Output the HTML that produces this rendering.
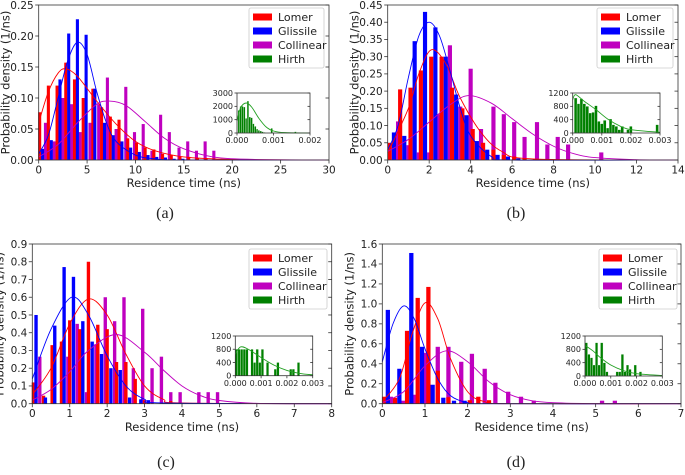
<!DOCTYPE html>
<html><head><meta charset="utf-8"><style>
body{margin:0;background:#fff;width:685px;height:470px;overflow:hidden}
svg{font-family:"DejaVu Sans","Liberation Sans",sans-serif}
</style></head><body>
<svg id="fig" width="685" height="470" viewBox="0 0 685 470" xmlns="http://www.w3.org/2000/svg"></svg>
<script>
// ---------- Panel (a) data ----------
const aRedX=[0.1,1.0,1.9,2.8,3.7,4.6,5.6,6.5,7.4,8.3,9.2,10.1,11.0,11.9,12.8,13.7,14.6,15.5,16.4,17.3];
const aRedY=[0.077,0.12,0.12,0.157,0.13,0.1,0.115,0.085,0.07,0.065,0.035,0.028,0.02,0.017,0.01,0.008,0.005,0.005,0.003,0.003];
const aBlueX=[0.4,1.3,2.2,3.1,4.0,4.9,5.8,6.8,7.7,8.6,9.5,10.4,11.3,12.2,13.1,14.0,14.9];
const aBlueY=[0.018,0.032,0.13,0.204,0.227,0.202,0.115,0.06,0.04,0.03,0.02,0.013,0.008,0.005,0.004,0.002,0.002];
const aMagX=[0.7,1.6,2.5,3.4,4.3,5.3,6.2,7.1,8.0,9.0,9.9,10.8,11.7,12.6,13.5,14.5,15.4,16.3,17.2,18.1];
const aMagY=[0.06,0.03,0.1,0.09,0.045,0.06,0.09,0.133,0.05,0.118,0.045,0.058,0.015,0.073,0.045,0.02,0.03,0.015,0.03,0.015];
const aRedFitX=[0,1,2,2.8,4,6,8,10,12,15,20,30];
const aRedFitY=[0.06,0.11,0.14,0.147,0.135,0.095,0.058,0.03,0.015,0.005,0.001,0];
const aBlueFitX=[0,1,2,3,4,5,6,7,8,10,12,15,30];
const aBlueFitY=[0.01,0.04,0.1,0.16,0.19,0.17,0.11,0.06,0.03,0.008,0.002,0,0];
const aMagFitX=[0,2,4,6,7.3,9,11,13,15,18,22,30];
const aMagFitY=[0.005,0.025,0.06,0.09,0.095,0.088,0.062,0.035,0.018,0.005,0.001,0];
const aGreenX=[0.00005,0.0001,0.00015,0.0002,0.00025,0.0003,0.00035,0.0004,0.00045,0.0005,0.00055,0.0006,0.00065,0.0007,0.00075,0.00095,0.0016];
const aGreenY=[1700,2000,2000,1950,1100,2400,1200,1150,700,500,300,200,150,100,50,350,100];
const aGreenFitX=[0,0.0001,0.00025,0.0004,0.0006,0.0008,0.001,0.0013,0.002];
const aGreenFitY=[900,1900,2250,1950,1100,450,150,30,0];
const aXTicks=[0,5,10,15,20,25,30];
const aYTicks=["0.00","0.05","0.10","0.15","0.20","0.25"];
const aInXTicks=["0.000","0.001","0.002"];
const aInYTicks=[0,1000,2000,3000];
// ---------- Panel (b) data ----------
const bRedX=[0.1,0.6,1.1,1.6,2.1,2.6,3.1,3.6,4.1,4.6,5.1,5.6,6.1,6.6,7.1];
const bRedY=[0.05,0.205,0.21,0.26,0.30,0.3,0.21,0.15,0.09,0.05,0.03,0.015,0.01,0.005,0.003];
const bBlueX=[0.3,0.8,1.3,1.8,2.3,2.8,3.3,3.8,4.3,4.8,5.3,5.8,6.3];
const bBlueY=[0.08,0.07,0.345,0.43,0.385,0.3,0.19,0.13,0.055,0.03,0.015,0.01,0.005];
const bMagX=[0.5,1.0,1.5,2.0,2.5,3.0,3.5,4.0,4.5,5.1,5.6,6.1,6.6,7.2,7.7,8.2,8.7,10.3];
const bMagY=[0.112,0.043,0.022,0.022,0.133,0.333,0.155,0.265,0.09,0.155,0.133,0.11,0.067,0.11,0.045,0.067,0.045,0.022];
const bRedFitX=[0,1,1.5,2.1,2.8,3.5,4.5,5.5,7,14];
const bRedFitY=[0.02,0.15,0.25,0.32,0.28,0.18,0.08,0.025,0.003,0];
const bBlueFitX=[0,0.5,1,1.5,2,2.5,3,3.5,4,5,6,14];
const bBlueFitY=[0.03,0.1,0.24,0.36,0.4,0.36,0.26,0.15,0.07,0.01,0,0];
const bMagFitX=[0,1,2,3,3.9,5,6,7,8,9,10,12,14];
const bMagFitY=[0.025,0.06,0.11,0.16,0.187,0.165,0.12,0.075,0.04,0.018,0.007,0.001,0];
const bGreenX=[0.0001,0.0002,0.0003,0.0004,0.0005,0.0006,0.0007,0.0008,0.0009,0.001,0.0011,0.0012,0.0013,0.0014,0.0015,0.0016,0.0017,0.0019,0.002,0.0029];
const bGreenY=[1050,880,1030,880,800,600,620,820,350,280,380,150,420,250,200,100,200,100,200,250];
const bGreenFitX=[0,0.0001,0.0004,0.0008,0.0012,0.0016,0.002,0.003];
const bGreenFitY=[1000,1150,950,700,420,220,100,20];
const bXTicks=[0,2,4,6,8,10,12,14];
const bYTicks=["0.00","0.05","0.10","0.15","0.20","0.25","0.30","0.35","0.40","0.45"];
const bInXTicks=["0.000","0.001","0.002","0.003"];
const bInYTicks=[0,400,800,1200];
// ---------- Panel (c) data ----------
const cRedX=[0.03,0.3,0.53,0.78,1.0,1.27,1.5,1.75,2.0,2.25,2.5,2.75,3.0,3.7];
const cRedY=[0.12,0.045,0.33,0.35,0.47,0.42,0.8,0.445,0.42,0.235,0.235,0.14,0.02,0.015];
const cBlueX=[0.1,0.35,0.6,0.85,1.1,1.35,1.6,1.85,2.1,2.35,2.6,2.9,3.1];
const cBlueY=[0.5,0.035,0.44,0.77,0.715,0.465,0.35,0.28,0.2,0.19,0.035,0.025,0.02];
const cMagX=[0.2,0.95,1.2,1.45,1.7,1.95,2.2,2.45,2.7,2.95,3.2,3.45,3.7,3.95,4.45,4.7,4.95];
const cMagY=[0.265,0.265,0.45,0.065,0.335,0.6,0.465,0.6,0.2,0.535,0.2,0.265,0.065,0.065,0.065,0.065,0.065];
const cRedFitX=[0,0.5,1,1.5,2,2.5,3,3.5,4,8];
const cRedFitY=[0.05,0.2,0.45,0.59,0.5,0.28,0.1,0.025,0.004,0];
const cBlueFitX=[0,0.5,1.05,1.5,2,2.5,3,3.5,8];
const cBlueFitY=[0.14,0.42,0.6,0.5,0.27,0.1,0.025,0.004,0];
const cMagFitX=[0,0.5,1,1.5,2.25,3,3.5,4,4.5,5,6,8];
const cMagFitY=[0.02,0.08,0.18,0.3,0.39,0.29,0.19,0.1,0.045,0.018,0.002,0];
const cGreenX=[0.00005,0.00015,0.00025,0.00035,0.00045,0.00065,0.00075,0.00085,0.00095,0.00105,0.00125,0.00155,0.00165,0.00215,0.00225,0.00245];
const cGreenY=[800,800,800,800,800,800,400,800,400,800,400,200,400,200,200,400];
const cGreenFitX=[0,0.0002,0.0005,0.001,0.0015,0.002,0.0025,0.003];
const cGreenFitY=[650,870,800,550,320,160,70,25];
const cXTicks=[0,1,2,3,4,5,6,7,8];
const cYTicks=["0.0","0.1","0.2","0.3","0.4","0.5","0.6","0.7","0.8","0.9"];
const cInXTicks=["0.000","0.001","0.002","0.003"];
const cInYTicks=[0,400,800,1200];
// ---------- Panel (d) data ----------
const dRedX=[0.05,0.3,0.58,0.83,1.08,1.3,1.55,2.05,2.25,2.5];
const dRedY=[0.07,0.06,0.73,1.06,1.17,0.33,0.065,0.035,0.07,0.035];
const dBlueX=[0.13,0.4,0.68,0.93,1.18,1.43,1.68,1.93];
const dBlueY=[0.94,0.35,1.51,0.57,0.19,0.06,0.03,0.03];
const dMagX=[0.2,0.5,0.77,1.0,1.3,1.55,1.85,2.1,2.4,2.65,2.95,3.25,3.55,5.15,5.45];
const dMagY=[0.07,0.03,0.09,0.51,0.57,0.57,0.42,0.5,0.35,0.21,0.12,0.07,0.03,0.03,0.03];
const dRedFitX=[0,0.4,0.7,1,1.3,1.6,2,2.4,3,7];
const dRedFitY=[0.02,0.25,0.7,1.01,0.85,0.45,0.12,0.02,0,0];
const dBlueFitX=[0,0.25,0.5,0.75,1,1.3,1.6,2,2.5,7];
const dBlueFitY=[0.42,0.8,0.98,0.85,0.55,0.25,0.08,0.01,0,0];
const dMagFitX=[0,0.5,1,1.5,2,2.5,3,3.5,4,5,7];
const dMagFitY=[0.01,0.12,0.38,0.53,0.42,0.22,0.09,0.03,0.01,0.001,0];
const dGreenX=[0.00005,0.00015,0.00025,0.00035,0.00045,0.00055,0.00065,0.00075,0.00085,0.00125,0.00135,0.00145,0.00155,0.00165,0.00175,0.00195,0.00215];
const dGreenY=[1000,650,550,330,1000,330,1000,400,130,130,130,650,130,330,200,330,130];
const dGreenFitX=[0,0.0003,0.0006,0.001,0.0015,0.002,0.003];
const dGreenFitY=[920,760,550,330,160,70,15];
const dXTicks=[0,1,2,3,4,5,6,7];
const dYTicks=["0.0","0.2","0.4","0.6","0.8","1.0","1.2","1.4","1.6"];
const dInXTicks=["0.000","0.001","0.002","0.003"];
const dInYTicks=[0,400,800,1200];

const NS="http://www.w3.org/2000/svg";
const svg=document.getElementById('fig');
function mk(tag,attrs,parent){const e=document.createElementNS(NS,tag);for(const k in attrs)e.setAttribute(k,attrs[k]);(parent||svg).appendChild(e);return e;}
function smooth(pts){let d="M"+pts[0][0]+","+pts[0][1];for(let i=0;i<pts.length-1;i++){const p0=pts[i-1]||pts[i],p1=pts[i],p2=pts[i+1],p3=pts[i+2]||p2;
 const c1x=p1[0]+(p2[0]-p0[0])/6,c1y=p1[1]+(p2[1]-p0[1])/6,c2x=p2[0]-(p3[0]-p1[0])/6,c2y=p2[1]-(p3[1]-p1[1])/6;
 d+=" C"+c1x+","+c1y+" "+c2x+","+c2y+" "+p2[0]+","+p2[1];}return d;}

function axes(g,cfg){
 const {x0,x1,y0,y1,xmax,ymax,xt,yt,fs,tl}=cfg;
 const sx=v=>x0+(v/xmax)*(x1-x0), sy=v=>y1-(v/ymax)*(y1-y0);
 return {sx,sy,draw(){
  mk('rect',{x:x0,y:y0,width:x1-x0,height:y1-y0,fill:'none',stroke:'#333','stroke-width':0.8},g);
  xt.forEach((t,i)=>{const v=parseFloat(t);const x=sx(v);
   mk('line',{x1:x,x2:x,y1:y1,y2:y1+tl,stroke:'#333','stroke-width':0.8},g);
   const tx=mk('text',{x:x,y:y1+tl+fs*0.95,'text-anchor':'middle','font-size':fs,fill:'#222'},g);tx.textContent=t;
   
   });
  yt.forEach((t,i)=>{const v=parseFloat(t);const y=sy(v);
   mk('line',{x1:x0-tl,x2:x0,y1:y,y2:y,stroke:'#333','stroke-width':0.8},g);
   if(cfg.right)mk('line',{x1:x1-tl,x2:x1,y1:y,y2:y,stroke:'#333','stroke-width':0.8},g);
   const tx=mk('text',{x:x0-tl-1.5,y:y+fs*0.36,'text-anchor':'end','font-size':fs,fill:'#222'},g);tx.textContent=t;
   
   });
 }};
}
function bars(g,ax,xs,ys,w,color,name){xs.forEach((x,i)=>{const y=ax.sy(ys[i]);
 const r=mk('rect',{x:ax.sx(x-w/2),y:y,width:ax.sx(w)-ax.sx(0),height:ax.sy(0)-y,fill:color},g);
 
 });}
function curve(g,ax,xs,ys,color,name){const p=mk('path',{d:smooth(xs.map((x,i)=>[ax.sx(x),ax.sy(ys[i])])),fill:'none',stroke:color,'stroke-width':0.9},g);
 
 }

const panels=[
 {id:'a',box:[38.7,329,5,160],xmax:30,ymax:0.25,xt:aXTicks.map(String),yt:aYTicks,w:0.32,
  R:[aRedX,aRedY],B:[aBlueX,aBlueY],M:[aMagX,aMagY],RF:[aRedFitX,aRedFitY],BF:[aBlueFitX,aBlueFitY],MF:[aMagFitX,aMagFitY],
  leg:[249,8,75,60],ins:[237,93,310,133],ixmax:0.002,iymax:3000,ixt:aInXTicks,iyt:aInYTicks.map(String),gw:0.00005,
  G:[aGreenX,aGreenY],GF:[aGreenFitX,aGreenFitY],xl:187,cap:[165,212]},
 {id:'b',box:[387.7,678,5,160],xmax:14,ymax:0.45,xt:bXTicks.map(String),yt:bYTicks,w:0.2,
  R:[bRedX,bRedY],B:[bBlueX,bBlueY],M:[bMagX,bMagY],RF:[bRedFitX,bRedFitY],BF:[bBlueFitX,bBlueFitY],MF:[bMagFitX,bMagFitY],
  leg:[597,8,76,60],ins:[572.7,93,660,133],ixmax:0.003,iymax:1200,ixt:bInXTicks,iyt:bInYTicks.map(String),gw:0.0001,
  G:[bGreenX,bGreenY],GF:[bGreenFitX,bGreenFitY],xl:187,cap:[516,212]},
 {id:'c',box:[32.3,331.7,244,403.7],xmax:8,ymax:0.9,xt:cXTicks.map(String),yt:cYTicks,w:0.09,
  R:[cRedX,cRedY],B:[cBlueX,cBlueY],M:[cMagX,cMagY],RF:[cRedFitX,cRedFitY],BF:[cBlueFitX,cBlueFitY],MF:[cMagFitX,cMagFitY],
  leg:[249,249,78,60],ins:[235.3,336,312.7,375.7],ixmax:0.003,iymax:1200,ixt:cInXTicks,iyt:cInYTicks.map(String),gw:0.0001,
  G:[cGreenX,cGreenY],GF:[cGreenFitX,cGreenFitY],xl:431,cap:[166,461]},
 {id:'d',box:[382.3,681,244,403.7],xmax:7,ymax:1.6,xt:dXTicks.map(String),yt:dYTicks,w:0.1,
  R:[dRedX,dRedY],B:[dBlueX,dBlueY],M:[dMagX,dMagY],RF:[dRedFitX,dRedFitY],BF:[dBlueFitX,dBlueFitY],MF:[dMagFitX,dMagFitY],
  leg:[599,249,78,60],ins:[585,336,662.3,376],ixmax:0.003,iymax:1200,ixt:dInXTicks,iyt:dInYTicks.map(String),gw:0.0001,
  G:[dGreenX,dGreenY],GF:[dGreenFitX,dGreenFitY],xl:431,cap:[516,461]}
];
const RED='#ff0000',BLUE='#0000ff',MAG='#bf00bf',GRN='#008000';
panels.forEach(P=>{
 const g=mk('g',{});
 
 
 const [x0,x1,y0,y1]=P.box;
 const ax=axes(g,{x0,x1,y0,y1,xmax:P.xmax,ymax:P.ymax,xt:P.xt,yt:P.yt,fs:10.5,tl:3.5,right:true});
 bars(g,ax,P.M[0],P.M[1],P.w,MAG,'collinear-bar');
 bars(g,ax,P.R[0],P.R[1],P.w,RED,'lomer-bar');
 bars(g,ax,P.B[0],P.B[1],P.w,BLUE,'glissile-bar');
 curve(g,ax,P.RF[0],P.RF[1],RED,'lomer-fit');
 curve(g,ax,P.BF[0],P.BF[1],BLUE,'glissile-fit');
 curve(g,ax,P.MF[0],P.MF[1],MAG,'collinear-fit');
 ax.draw();
 const xl=mk('text',{x:(x0+x1)/2,y:P.xl,'text-anchor':'middle','font-size':11.5,fill:'#222'},g);xl.textContent='Residence time (ns)';
 
 const ylx=x0-29, ylc=(y0+y1)/2;
 const yl=mk('text',{x:ylx,y:ylc,'text-anchor':'middle','font-size':11.5,fill:'#222',transform:`rotate(-90 ${ylx} ${ylc})`},g);yl.textContent='Probability density (1/ns)';
 
 // legend
 const [lx,ly,lw,lh]=P.leg;
 const lg=mk('g',{},g);
 mk('rect',{x:lx,y:ly,width:lw,height:lh,rx:2,fill:'#fff',stroke:'#ccc','stroke-width':0.8},lg);
 [['Lomer',RED],['Glissile',BLUE],['Collinear',MAG],['Hirth',GRN]].forEach((e,i)=>{
  const yy=ly+9+i*14;
  mk('rect',{x:lx+4,y:yy-3.5,width:19,height:7,fill:e[1]},lg);
  const t=mk('text',{x:lx+29,y:yy+4,'font-size':11,fill:'#222'},lg);t.textContent=e[0];
  
 });
 // inset
 const [ix0,iy0,ix1,iy1]=P.ins;
 const ig=mk('g',{},g);
 mk('rect',{x:ix0,y:iy0,width:ix1-ix0,height:iy1-iy0,fill:'#fff'},ig);
 const iax=axes(ig,{x0:ix0,x1:ix1,y0:iy0,y1:iy1,xmax:P.ixmax,ymax:P.iymax,xt:P.ixt,yt:P.iyt,fs:8,tl:2.5,right:true});
 P.G[0].forEach((x,i)=>{const y=iax.sy(P.G[1][i]);
  const r=mk('rect',{x:iax.sx(x-P.gw/2),y:y,width:iax.sx(P.gw)-iax.sx(0),height:iax.sy(0)-y,fill:GRN,stroke:'#fff','stroke-width':0.3},ig);
  
  });
 curve(ig,iax,P.GF[0],P.GF[1],'#22a022','hirth-fit');
 iax.draw();
 const cap=mk('text',{x:P.cap[0],y:P.cap[1]+6,'text-anchor':'middle','font-size':16,fill:'#222','font-family':'"Liberation Serif","DejaVu Serif",serif'},g);
 cap.textContent='('+P.id+')';
 
});
</script>
</body></html>
